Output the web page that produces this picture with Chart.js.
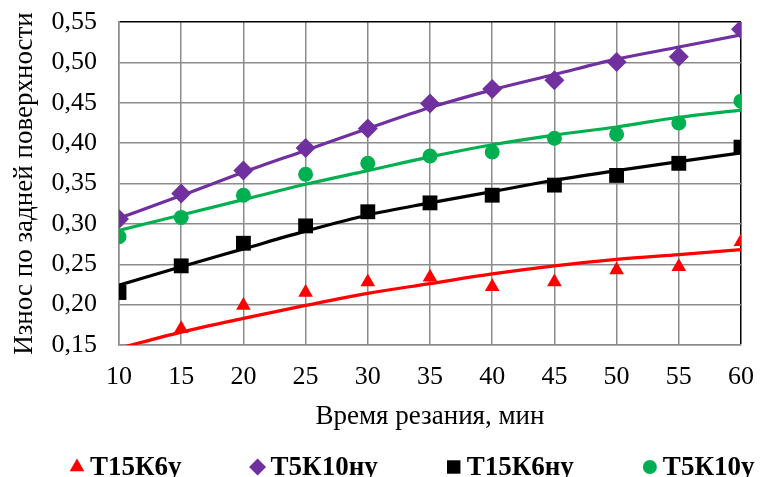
<!DOCTYPE html>
<html lang="ru">
<head>
<meta charset="utf-8">
<title>Износ по задней поверхности</title>
<script src="https://cdn.jsdelivr.net/npm/chart.js@4.4.1/dist/chart.umd.min.js"></script>
<style>
    html, body { margin: 0; padding: 0; background: #fff; }
    #wrap { width: 762px; height: 477px; }
</style>
</head>
<body>
<div id="wrap"><canvas id="wearChart" width="762" height="477"></canvas></div>
<script>
// Время резания, мин
const times = [10, 15, 20, 25, 30, 35, 40, 45, 50, 55, 60];

// Измеренные точки
const t15k6y = [null, 0.170, 0.199, 0.215, 0.228, 0.234, 0.222, 0.228, 0.243, 0.247, 0.278];
const t5k10ny = [0.306, 0.3375, 0.366, 0.394, 0.418, 0.449, 0.467, 0.478, 0.5005, 0.507, 0.541];
const t15k6ny = [0.215, 0.248, 0.276, 0.2975, 0.315, 0.326, 0.3355, 0.348, 0.360, 0.375, 0.395];
const t5k10y = [0.284, 0.308, 0.3355, 0.3615, 0.375, 0.384, 0.389, 0.406, 0.411, 0.425, 0.452];

// Линии тренда
const trendT15k6y = [0.146, 0.166, 0.183, 0.199, 0.214, 0.226, 0.238, 0.248, 0.256, 0.262, 0.268];
const trendT5k10ny = [0.307, 0.335, 0.364, 0.391, 0.418, 0.444, 0.466, 0.485, 0.504, 0.519, 0.534];
const trendT15k6ny = [0.224, 0.247, 0.269, 0.291, 0.311, 0.326, 0.340, 0.354, 0.366, 0.377, 0.388];
const trendT5k10y = [0.292, 0.311, 0.330, 0.349, 0.366, 0.383, 0.398, 0.410, 0.420, 0.432, 0.441];

const seriesNames = ['Т15К6у', 'Т5К10ну', 'Т15К6ну', 'Т5К10у'];
const yTicks = [0.15, 0.20, 0.25, 0.30, 0.35, 0.40, 0.45, 0.50, 0.55];

const FONT = '"Liberation Serif", "Times New Roman", serif';
const GRID = '#8c8c8c';

function toPoints(values) {
    return times.map((t, i) => ({ x: t, y: values[i] }));
}

function markerSet(label, values, color, style, radius) {
    return {
        label: label,
        data: toPoints(values),
        showLine: false,
        pointStyle: style,
        pointRadius: radius,
        pointHoverRadius: radius,
        pointBackgroundColor: color,
        pointBorderColor: color,
        pointBorderWidth: 0,
        borderColor: color,
        backgroundColor: color,
        order: 0
    };
}

function trendSet(values, color) {
    return {
        label: '',
        data: toPoints(values),
        borderColor: color,
        borderWidth: 3.2,
        pointRadius: 0,
        cubicInterpolationMode: 'monotone',
        fill: false,
        order: 1
    };
}

// legend drawn under the axis title, same look as the source
const legendItems = [
    { text: seriesNames[0], color: '#ff0000', style: 'triangle', radius: 8.5 },
    { text: seriesNames[1], color: '#7030a0', style: 'rectRot', radius: 8.5 },
    { text: seriesNames[2], color: '#000000', style: 'rect', radius: 9.5 },
    { text: seriesNames[3], color: '#00b050', style: 'circle', radius: 7 }
];

const bottomLegend = {
    id: 'bottomLegend',
    afterDraw(chart) {
        const ctx = chart.ctx;
        const y = 466;
        let x = 77;
        ctx.save();
        ctx.font = 'bold 27px ' + FONT;
        ctx.textAlign = 'left';
        ctx.textBaseline = 'middle';
        legendItems.forEach((item) => {
            ctx.fillStyle = item.color;
            ctx.strokeStyle = item.color;
            Chart.helpers.drawPoint(ctx, { pointStyle: item.style, radius: item.radius, rotation: 0, borderWidth: 0 }, x, y + 1);
            ctx.fillStyle = '#000';
            const tx = x + 13;
            ctx.fillText(item.text, tx, y + 2);
            x = tx + ctx.measureText(item.text).width + 76;
        });
        ctx.restore();
    }
};

document.addEventListener('DOMContentLoaded', () => {
    const ctx = document.getElementById('wearChart').getContext('2d');

    new Chart(ctx, {
        type: 'line',
        data: {
            datasets: [
                markerSet(seriesNames[0], t15k6y, '#ff0000', 'triangle', 8.5),
                markerSet(seriesNames[1], t5k10ny, '#7030a0', 'rectRot', 10),
                markerSet(seriesNames[2], t15k6ny, '#000000', 'rect', 10.5),
                markerSet(seriesNames[3], t5k10y, '#00b050', 'circle', 7.5),
                trendSet(trendT15k6y, '#ff0000'),
                trendSet(trendT5k10ny, '#7030a0'),
                trendSet(trendT15k6ny, '#000000'),
                trendSet(trendT5k10y, '#00b050')
            ]
        },
        options: {
            responsive: false,
            animation: false,
            layout: {
                padding: { top: 22, right: 21, bottom: 40, left: 5 }
            },
            plugins: {
                legend: { display: false },
                tooltip: { enabled: false }
            },
            scales: {
                x: {
                    type: 'linear',
                    min: 10,
                    max: 60,
                    afterFit: (scale) => {
                        scale.height = 92;
                        scale.paddingLeft = 0;
                        scale.paddingRight = 0;
                    },
                    ticks: {
                        stepSize: 5,
                        color: '#000',
                        padding: 17,
                        maxRotation: 0,
                        font: { family: FONT, size: 26 }
                    },
                    grid: {
                        drawTicks: false,
                        lineWidth: 1.5,
                        color: (c) => (c.tick && c.tick.value === 60 ? '#000' : GRID)
                    },
                    border: { color: GRID, width: 1.5 },
                    title: {
                        display: true,
                        text: 'Время резания, мин',
                        color: '#000',
                        font: { family: FONT, size: 27 }
                    }
                },
                y: {
                    min: 0.15,
                    max: 0.55,
                    afterFit: (scale) => {
                        scale.width = 114;
                        scale.paddingTop = 0;
                        scale.paddingBottom = 0;
                    },
                    afterBuildTicks: (scale) => {
                        scale.ticks = yTicks.map((v) => ({ value: v }));
                    },
                    ticks: {
                        color: '#000',
                        padding: 22,
                        font: { family: FONT, size: 26 },
                        callback: (value) => Number(value).toFixed(2).replace('.', ',')
                    },
                    grid: {
                        drawTicks: false,
                        lineWidth: 1.5,
                        color: (c) => (c.tick && Math.abs(c.tick.value - 0.55) < 1e-6 ? '#000' : GRID)
                    },
                    border: { color: GRID, width: 1.5 },
                    title: {
                        display: true,
                        text: 'Износ по задней поверхности',
                        color: '#000',
                        font: { family: FONT, size: 27 }
                    }
                }
            }
        },
        plugins: [bottomLegend]
    });
});
</script>
</body>
</html>
